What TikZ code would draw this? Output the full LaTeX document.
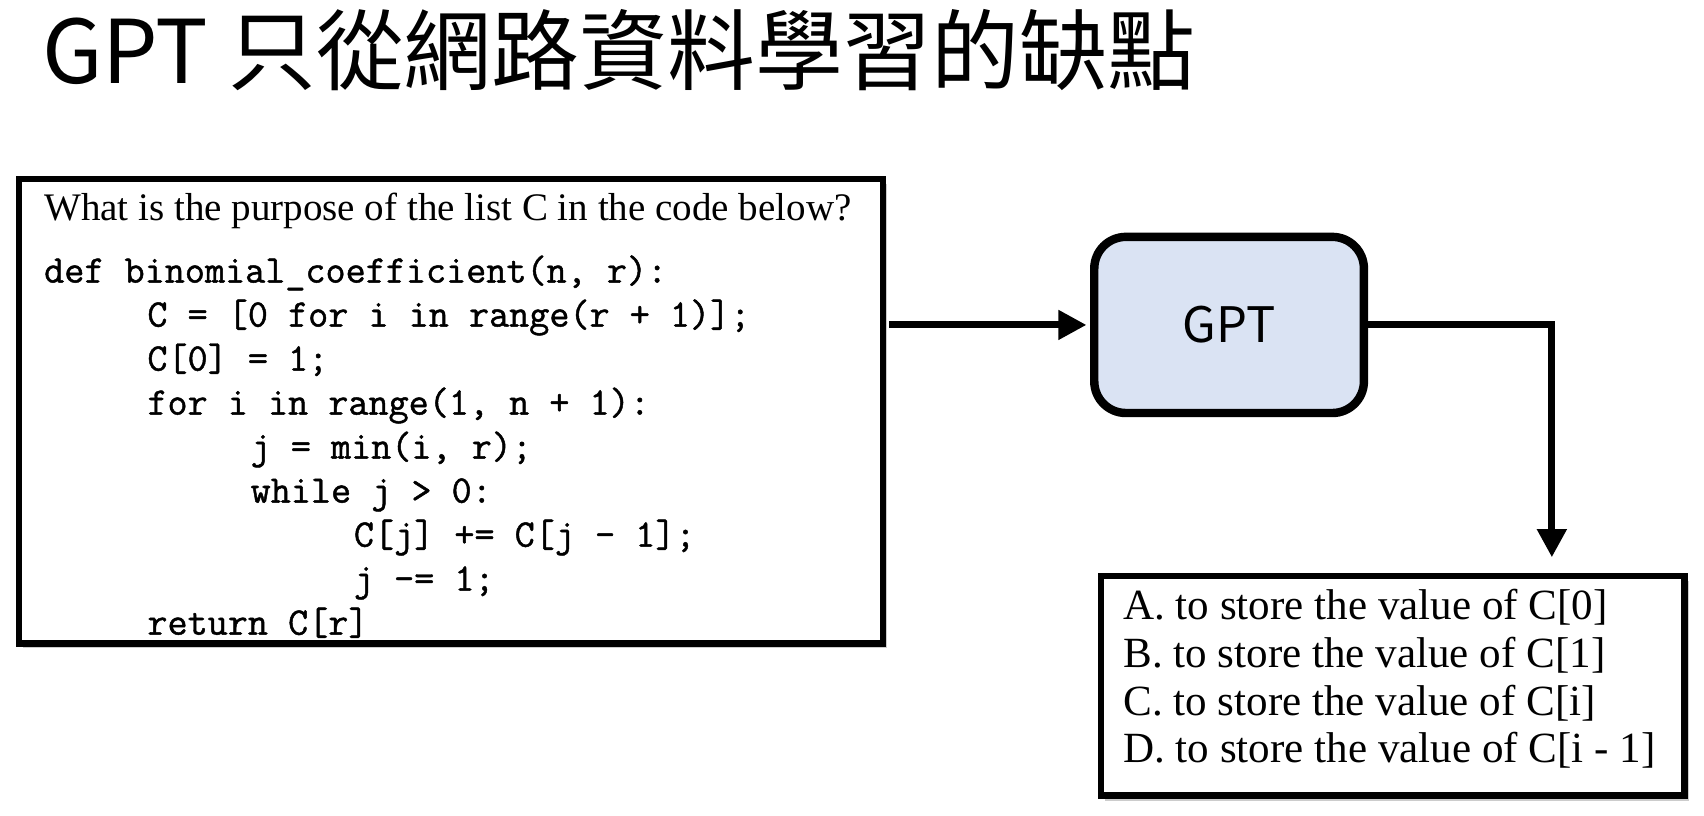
\documentclass[tikz,border=0pt]{standalone}
\usepackage{fontspec}
\setmainfont{Liberation Serif}
\newfontfamily\cjkfont{Noto Sans CJK TC}
\newfontfamily\codefont{Latin Modern Mono}[FakeBold=1.2]
\usetikzlibrary{arrows.meta,shadows}
\definecolor{gptblue}{HTML}{DAE3F3}
\begin{document}
\begin{tikzpicture}[x=0.010867cm,y=-0.010867cm,
  box/.style={draw=black,line width=1.8pt,inner sep=0pt,outer sep=0pt,fill=white,
    drop shadow={shadow xshift=1.2pt,shadow yshift=-1.4pt,opacity=0.4}},
  codeline/.style={anchor=base west,inner sep=0pt,font=\fontsize{11.1}{12}\codefont},
  optline/.style={anchor=base west,inner sep=0pt,font=\fontsize{12.25}{13}\selectfont},
  conn/.style={line width=2pt,-{Triangle[length=8pt,width=8pt]}}]
\useasboundingbox (0,0) rectangle (1568,750);
% title
\node[anchor=base west,inner sep=0pt,font=\cjkfont\fontsize{25}{28}\selectfont] (title) at (38,77) {GPT 只從網路資料學習的缺點};
% code box
\node[box,minimum width=245.6pt,minimum height=132.1pt] (code) at (415,378.5) {};
\node[anchor=base west,inner sep=0pt,font=\fontsize{11.1}{12}\selectfont] (q) at (40,203) {What is the purpose of the list C in the code below?};
\node[codeline] (c1) at (40,260) {def binomial\_coefficient(n, r):};
\node[codeline] (c2) at (135,300.5) {C = [0 for i in range(r + 1)];};
\node[codeline] (c3) at (135,341) {C[0] = 1;};
\node[codeline] (c4) at (135,381.5) {for i in range(1, n + 1):};
\node[codeline] (c5) at (230,422) {j = min(i, r);};
\node[codeline] (c6) at (230,462.5) {while j > 0:};
\node[codeline] (c7) at (325,503) {C[j] += C[j - 1];};
\node[codeline] (c8) at (325,543.5) {j -= 1;};
\node[codeline] (c9) at (135,584) {return C[r]};
% GPT box
\node[draw=black,line width=2.4pt,fill=gptblue,rounded corners=9pt,
  minimum width=76.7pt,minimum height=50.1pt,inner sep=0pt,
  font=\cjkfont\fontsize{13.9}{16}\selectfont] (gpt) at (1131,299) {GPT};
% options box
\node[box,minimum width=166.1pt,minimum height=62.5pt] (opts) at (1281.5,631) {};
\node[optline] (oa) at (1033,570) {A. to store the value of C[0]};
\node[optline] (ob) at (1033,614) {B. to store the value of C[1]};
\node[optline] (oc) at (1033,658) {C. to store the value of C[i]};
\node[optline] (od) at (1033,702) {D. to store the value of C[i - 1]};
% connectors
\coordinate (drop) at (1428,530);
\draw[conn,shorten <=1.9pt,shorten >=1pt] (code.east |- gpt.west) -- (gpt.west);
\draw[conn,shorten >=5.3pt] (gpt.east) -| (drop);
\end{tikzpicture}
\end{document}
